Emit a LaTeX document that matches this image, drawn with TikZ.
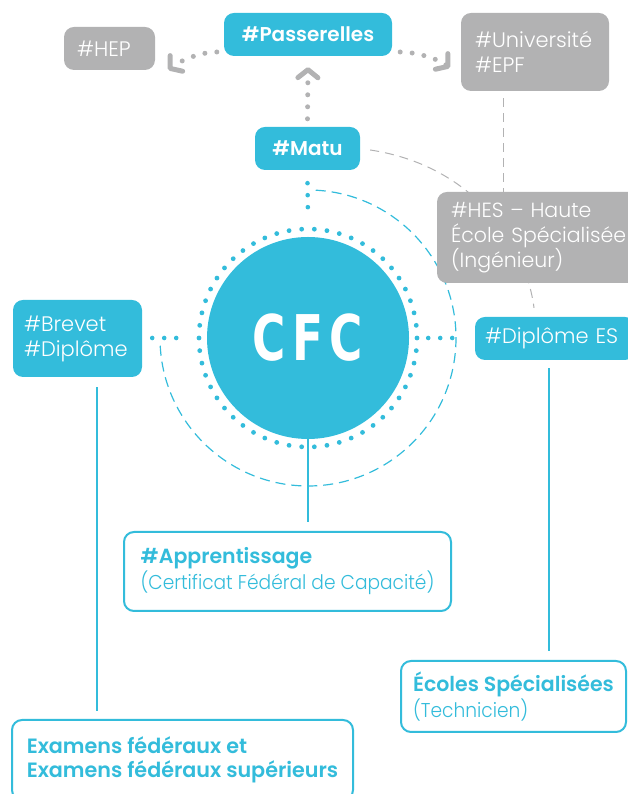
\documentclass[tikz,border=0pt]{standalone}
\usepackage{fontspec}
\setmainfont{Poppins}[UprightFont={Poppins Light},BoldFont={Poppins SemiBold}]
\newfontfamily\narrowlight{Poppins}[UprightFont={Poppins Light},FakeStretch=0.93]
\newfontfamily\cfcfont[FakeStretch=0.72,LetterSpace=10]{DejaVu Sans}
\usetikzlibrary{arrows.meta,backgrounds}
\definecolor{cfcblue}{HTML}{33BCDB}
\definecolor{tagrey}{HTML}{B2B2B3}
\tikzset{tag/.style={rounded corners=10pt,inner ysep=0pt,align=left,font=\fontsize{21}{25}\selectfont},
bluetag/.style={tag,fill=cfcblue,text=white},greytag/.style={tag,fill=tagrey,text=white},
framedtag/.style={tag,draw=cfcblue,line width=2pt,fill=white,text=cfcblue,inner xsep=10pt,font=\fontsize{20.5}{26}\selectfont}}

\begin{document}
\begin{tikzpicture}[x=1pt,y=1pt,
  bluedots/.style={cfcblue,line width=4.6pt,line cap=round,dash pattern=on 0pt off 12pt},
  greydots/.style={tagrey,line width=5pt,line cap=round,dash pattern=on 0pt off 12pt,-{Straight Barb[length=8pt,width=20pt,round]}},
  greydash/.style={tagrey,line width=1pt,dash pattern=on 9pt off 6pt},
  bluedash/.style={cfcblue,line width=1.2pt,dash pattern=on 10pt off 6pt},
  stem/.style={cfcblue,line width=2.6pt}]

\useasboundingbox (0,0) rectangle (628,794);

% Tags
\node[bluetag,font=\bfseries\fontsize{20}{25}\selectfont,align=center,text width=144pt,inner xsep=12pt,minimum height=43pt] (passerelles) at (308,759.5) {\#Passerelles};
\node[greytag,text width=65pt,inner xsep=13pt,minimum height=43pt] (hep) at (109.5,745.5) {\#HEP};
\node[greytag,text width=120pt,inner xsep=14pt,minimum height=78pt] (universite) at (535,742) {\#Université\\\#EPF};
\node[bluetag,font=\bfseries\fontsize{20}{25}\selectfont,align=center,text width=81pt,inner xsep=12pt,minimum height=43pt] (matu) at (307.5,645.5) {\#Matu};
\node[greytag,font=\fontsize{20.5}{25}\selectfont,text width=190pt,inner xsep=14pt,minimum height=91pt] (hes) at (546,556.5) {\#HES -- Haute\\École Spécialisée\\(Ingénieur)};
\node[bluetag,text width=107pt,inner xsep=11pt,minimum height=77pt] (brevet) at (77.5,455.5) {\#Brevet\\\#Diplôme};
\node[bluetag,text width=140pt,inner xsep=10pt,minimum height=43pt] (diplomees) at (555,455.5) {\#Diplôme ES};

% CFC
\node[circle,fill=cfcblue,minimum size=202pt,inner sep=0pt,text=white,font=\cfcfont\bfseries\fontsize{63}{63}\selectfont] (cfc) at (308,456) {CFC};
\node[circle,minimum size=218pt,inner sep=0pt] (ring) at (cfc.center) {};
\foreach \a in {0,...,53} \fill[cfcblue] (ring.center) ++(\a*20/3:109) circle (2.4);

% Schools
\node[framedtag,minimum width=327pt,minimum height=79pt] (apprentissage) at (287.5,222.5) {{\bfseries\#Apprentissage}\\{\narrowlight\fontsize{20}{26}\selectfont(Certificat Fédéral de Capacité)}};
\node[framedtag,minimum width=225pt,minimum height=71pt] (ecoles) at (513.5,97.5) {{\bfseries Écoles Spécialisées}\\{\narrowlight\fontsize{20}{26}\selectfont(Technicien)}};
\node[framedtag,font=\bfseries\fontsize{20.7}{24}\selectfont,minimum width=341pt,minimum height=80pt] (examens) at (182.5,34) {Examens fédéraux et\\Examens fédéraux supérieurs};

% Links
\begin{scope}[on background layer]
\draw[bluedash] (cfc.center) ++(87:148) arc[start angle=87,end angle=-177,radius=148];
\draw[greydash] ([xshift=-32pt,yshift=-7pt]universite.south) -- ([xshift=-32pt]universite.south |- hes.north);
\draw[greydash] ([shift={(10,-1.5)}]matu.east) .. controls +(100,-15) and +(-9,68) .. ([shift={(-21,9)}]diplomees.north);
\draw[stem] ([xshift=19.5pt,yshift=-10pt]brevet.south) -- ([xshift=19.5pt,yshift=8pt]brevet.south |- examens.north);
\draw[stem] (cfc.south) -- ([yshift=9pt]cfc.south |- apprentissage.north);
\draw[stem] ([xshift=-6pt,yshift=-8pt]diplomees.south) -- ([xshift=-6pt,yshift=9pt]diplomees.south |- ecoles.north);
\end{scope}
\draw[greydots] ([yshift=8pt]matu.north) -- ([yshift=-11pt]passerelles.south);
\draw[greydots] ([shift={(-7,-17.5)}]passerelles.west) .. controls +(-18,0) and +(10,8) .. ([shift={(13,-21.5)}]hep.east);
\draw[greydots] ([shift={(8,-17.5)}]passerelles.east) .. controls +(18,0) and +(-10,8) .. ([shift={(-11,-16)}]universite.west);
\draw[bluedots] ([yshift=-13pt]matu.south) -- ([yshift=10pt]ring.north);
\draw[bluedots] ([xshift=10pt]brevet.east |- ring.west) -- ([xshift=-11pt]ring.west);
\draw[bluedots] ([xshift=11pt]ring.east) -- ([xshift=-11pt]diplomees.west |- ring.east);

\end{tikzpicture}
\end{document}
